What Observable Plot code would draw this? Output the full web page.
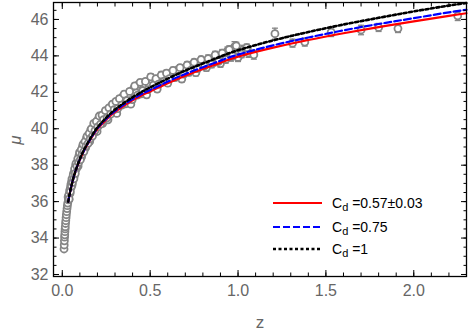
<!DOCTYPE html>
<html>
<head>
<meta charset="utf-8">
<script src="https://cdn.jsdelivr.net/npm/d3@7"></script>
<script src="https://cdn.jsdelivr.net/npm/@observablehq/plot@0.6"></script>
<style>
  html, body { margin: 0; padding: 0; background: #fff; }
  #wrap { position: relative; width: 469px; height: 331px; font-family: "Liberation Sans", Arial, sans-serif; }
  #legend { position: absolute; left: 0; top: 0; pointer-events: none; }
</style>
</head>
<body>
<div id="wrap"></div>
<script>
// ---- model curves ----
const zGrid   = [0.034,0.04,0.05,0.06,0.075,0.10,0.125,0.15,0.175,0.20,0.25,0.30,0.35,0.40,0.45,0.50,0.60,0.70,0.80,0.90,1.00,1.20,1.40,1.60,1.80,2.00,2.20,2.30];
const muRed   = [36.0,36.32,36.78,37.17,37.66,38.30,38.82,39.25,39.64,39.98,40.50,40.92,41.26,41.56,41.82,42.05,42.50,42.91,43.28,43.63,43.96,44.45,44.87,45.24,45.58,45.89,46.20,46.34];
const muBlue  = [36.0,36.32,36.78,37.18,37.67,38.32,38.84,39.28,39.67,40.02,40.55,40.98,41.33,41.63,41.90,42.13,42.59,43.01,43.38,43.74,44.07,44.58,45.01,45.40,45.75,46.07,46.39,46.53];
const muBlack = [36.0,36.33,36.79,37.19,37.68,38.34,38.87,39.31,39.72,40.07,40.61,41.05,41.41,41.73,42.01,42.27,42.75,43.19,43.58,43.96,44.31,44.85,45.31,45.72,46.09,46.44,46.76,46.90];

// ---- observational data (gray circles with error bars) ----
const obsZ = [0.010,0.011,0.012,0.013,0.014,0.015,0.016,0.017,0.0185,0.020,0.0215,0.023,0.025,0.027,0.029,0.031,
  0.035,0.038,0.041,0.044,0.047,0.050,0.053,0.056,0.060,0.064,0.068,0.072,0.076,0.080,0.085,0.090,0.095,0.100,
  0.105,0.110,0.115,0.120,0.126,0.132,0.138,0.144,0.150,0.156,0.162,0.168,0.175,0.182,0.190,0.198,
  0.206,0.214,0.222,0.230,0.240,0.250,0.260,0.270,0.280,0.290,0.300,0.310,0.320,0.330,0.345,0.360,0.375,0.390,
  0.405,0.420,0.435,0.450,0.465,0.480,0.495,0.510,0.525,0.540,0.555,0.570,0.585,0.600,0.620,0.640,0.660,0.680,
  0.700,0.720,0.740,0.760,0.780,0.800,0.820,0.840,0.860,0.880,0.900,0.920,0.940,0.960,0.980,1.000,1.030,1.060,1.090,
  1.210,1.310,1.380,1.530,1.700,1.800,1.910,2.250];
const obsMu = [33.40,33.62,33.85,34.05,34.18,34.35,34.50,34.62,34.80,34.95,35.12,35.28,35.45,35.62,35.78,35.92,
  36.10,36.11,36.47,36.45,36.79,36.78,37.10,36.92,37.27,37.55,37.39,37.71,37.99,37.80,38.13,37.95,38.53,38.40,
  38.66,38.46,39.02,38.87,39.14,38.95,39.50,39.35,39.60,39.30,39.94,39.78,39.74,40.19,40.15,39.85,
  40.55,40.34,40.57,40.30,40.85,40.70,40.49,40.98,41.26,40.94,41.17,40.84,41.46,41.28,41.78,41.37,41.76,41.35,
  42.19,41.97,42.44,41.92,42.34,41.86,42.38,42.70,42.31,42.18,42.70,42.57,42.98,42.50,42.93,42.81,43.25,42.73,
  43.21,43.09,43.51,43.08,43.46,43.68,43.35,43.72,43.64,43.96,43.58,43.90,44.27,43.93,44.50,43.91,44.34,44.16,44.06,
  45.22,44.70,44.76,45.30,45.42,45.56,45.50,46.20];
const obsErr = [0.12,0.11,0.11,0.10,0.10,0.10,0.10,0.10,0.10,0.10,0.10,0.10,0.10,0.10,0.10,0.10,
  0.10,0.10,0.10,0.10,0.10,0.10,0.10,0.10,0.10,0.10,0.10,0.10,0.10,0.10,0.10,0.10,0.10,0.11,
  0.12,0.12,0.12,0.12,0.12,0.12,0.12,0.12,0.12,0.12,0.12,0.12,0.12,0.12,0.12,0.12,
  0.13,0.13,0.13,0.13,0.13,0.13,0.13,0.13,0.13,0.13,0.14,0.14,0.14,0.14,0.14,0.14,0.14,0.14,
  0.15,0.15,0.15,0.15,0.15,0.15,0.15,0.16,0.16,0.16,0.16,0.16,0.16,0.16,0.17,0.17,0.17,0.17,
  0.18,0.18,0.18,0.18,0.18,0.19,0.19,0.19,0.19,0.20,0.20,0.20,0.22,0.22,0.28,0.22,0.24,0.24,0.24,
  0.30,0.22,0.22,0.24,0.26,0.22,0.22,0.26];
// second group of supernova points filling the dense band
const obsZ2 = [0.033,0.036,0.039,0.042,0.046,0.049,0.052,0.055,0.058,0.062,0.066,0.070,0.074,0.078,0.083,0.088,0.093,0.098,
  0.103,0.108,0.113,0.118,0.123,0.129,0.135,0.141,0.147,0.153,0.159,0.165,0.172,0.179,0.186,0.194,
  0.202,0.210,0.218,0.226,0.235,0.245,0.255,0.265,0.275,0.285,0.295,
  0.305,0.315,0.325,0.338,0.352,0.368,0.383,0.398,0.412,0.428,0.443,0.458,0.473,0.488,
  0.503,0.518,0.533,0.548,0.563,0.578,0.593,0.610,0.630,0.650,0.670,0.690,0.710,0.730,0.750,0.770,0.790,
  0.810,0.830,0.850,0.870,0.890,0.910,0.930,0.950,0.970,0.990,1.020,1.050];
const obsMu2 = [36.25,36.35,36.15,36.62,36.55,36.95,36.85,37.25,37.05,37.45,37.25,37.80,37.55,38.10,37.95,38.35,38.15,38.70,
  38.30,38.85,38.60,39.15,38.75,39.30,39.05,39.60,39.20,39.75,39.45,40.00,39.60,40.30,39.90,40.40,
  40.10,40.70,40.25,40.75,40.50,41.00,40.60,41.15,40.80,41.35,41.05,
  41.50,41.10,41.65,41.30,41.90,41.55,42.05,41.60,42.35,41.85,42.55,42.10,42.60,42.15,
  42.85,42.40,42.75,42.45,42.95,42.60,43.05,42.75,43.20,42.85,43.35,43.00,43.50,43.20,43.65,43.30,43.80,
  43.45,43.85,43.55,44.05,43.70,44.15,43.80,44.35,44.00,44.55,44.10,44.45];
const obsErr2 = [0.10,0.10,0.10,0.10,0.10,0.10,0.10,0.10,0.10,0.10,0.10,0.10,0.10,0.10,0.10,0.10,0.10,0.10,
  0.12,0.12,0.12,0.12,0.12,0.12,0.12,0.12,0.12,0.12,0.12,0.12,0.12,0.12,0.12,0.12,
  0.13,0.13,0.13,0.13,0.13,0.13,0.13,0.13,0.13,0.13,0.13,
  0.15,0.15,0.15,0.15,0.15,0.15,0.15,0.15,0.15,0.15,0.15,0.15,0.15,0.15,
  0.17,0.17,0.17,0.17,0.17,0.17,0.17,0.17,0.17,0.17,0.17,0.17,0.17,0.17,0.17,0.17,0.17,
  0.20,0.20,0.20,0.20,0.20,0.20,0.20,0.20,0.20,0.20,0.20,0.20];

// ---- ticks & labels ----
const xMajor = [0, 0.5, 1.0, 1.5, 2.0];
const xMinor = [0,0.1,0.2,0.3,0.4,0.5,0.6,0.7,0.8,0.9,1.0,1.1,1.2,1.3,1.4,1.5,1.6,1.7,1.8,1.9,2.0,2.1,2.2];
const yMajor = [32, 34, 36, 38, 40, 42, 44, 46];
const yMinor = [32,32.5,33,33.5,34,34.5,35,35.5,36,36.5,37,37.5,38,38.5,39,39.5,40,40.5,41,41.5,42,42.5,43,43.5,44,44.5,45,45.5,46,46.5];
const legendLabels = ["0.57±0.03", "0.75", "1"];
const xLabel = "z";
const yLabel = "μ";

const obs = obsZ.map((z, i) => ({z, mu: obsMu[i], err: obsErr[i]}))
  .concat(obsZ2.map((z, i) => ({z, mu: obsMu2[i], err: obsErr2[i]})));
const curves = zGrid.map((z, i) => ({z, red: muRed[i], blue: muBlue[i], black: muBlack[i]}));

const capSymbol = { draw(ctx, size) { const w = 3; ctx.moveTo(-w, 0); ctx.lineTo(w, 0); } };
const gray = "#858585";
const tickColor = "#666";

const plot = Plot.plot({
  width: 469, height: 331,
  marginLeft: 53, marginRight: 3, marginTop: 2, marginBottom: 55,
  style: { fontFamily: '"Liberation Sans", Arial, sans-serif', background: "white", overflow: "visible" },
  x: { domain: [-0.05, 2.3] },
  y: { domain: [31.89, 46.93] },
  marks: [
    Plot.ruleX(obs, { x: "z", y1: d => d.mu - d.err, y2: d => d.mu + d.err, stroke: gray, strokeWidth: 1.3 }),
    Plot.dot(obs, { x: "z", y: d => d.mu - d.err, symbol: capSymbol, stroke: gray, strokeWidth: 1.3, r: 3 }),
    Plot.dot(obs, { x: "z", y: d => d.mu + d.err, symbol: capSymbol, stroke: gray, strokeWidth: 1.3, r: 3 }),
    Plot.dot(obs, { x: "z", y: "mu", r: 3.5, stroke: gray, strokeWidth: 1.8, fill: "white" }),
    Plot.line(curves, { x: "z", y: "red", stroke: "#ff0000", strokeWidth: 2.2, curve: "natural" }),
    Plot.line(curves, { x: "z", y: "blue", stroke: "#0000ff", strokeWidth: 2.2, strokeDasharray: "7,3", curve: "natural" }),
    Plot.line(curves, { x: "z", y: "black", stroke: "#000", strokeWidth: 2.6, strokeDasharray: "3,2.5", curve: "natural" }),
    // tick labels
    Plot.axisX({ anchor: "bottom", ticks: xMajor, tickSize: 0, tickPadding: 8, tickFormat: d3.format(".1f"), fill: tickColor, fontSize: 16, label: null }),
    Plot.axisY({ anchor: "left", ticks: yMajor, tickSize: 0, tickPadding: 5, tickFormat: d => String(d), fill: tickColor, fontSize: 16, label: null }),
    // inward ticks on all four sides
    Plot.axisX({ anchor: "bottom", ticks: xMajor, tickSize: -6, tickFormat: () => "", label: null, stroke: "#000" }),
    Plot.axisX({ anchor: "bottom", ticks: xMinor, tickSize: -3.5, tickFormat: () => "", label: null, stroke: "#000" }),
    Plot.axisX({ anchor: "top", ticks: xMajor, tickSize: -6, tickFormat: () => "", label: null, stroke: "#000" }),
    Plot.axisX({ anchor: "top", ticks: xMinor, tickSize: -3.5, tickFormat: () => "", label: null, stroke: "#000" }),
    Plot.axisY({ anchor: "left", ticks: yMajor, tickSize: -6, tickFormat: () => "", label: null, stroke: "#000" }),
    Plot.axisY({ anchor: "left", ticks: yMinor, tickSize: -3.5, tickFormat: () => "", label: null, stroke: "#000" }),
    Plot.axisY({ anchor: "right", ticks: yMajor, tickSize: -6, tickFormat: () => "", label: null, stroke: "#000" }),
    Plot.axisY({ anchor: "right", ticks: yMinor, tickSize: -3.5, tickFormat: () => "", label: null, stroke: "#000" }),
    Plot.frame({ stroke: "#000", strokeWidth: 1.3 })
  ]
});

const wrap = document.getElementById("wrap");
wrap.appendChild(plot);

// axis titles and legend as an overlay
const ns = "http://www.w3.org/2000/svg";
const ov = document.createElementNS(ns, "svg");
ov.setAttribute("id", "legend");
ov.setAttribute("width", 469);
ov.setAttribute("height", 331);
ov.setAttribute("font-family", '"Liberation Sans", Arial, sans-serif');
const styles = [
  { stroke: "#ff0000", dash: null, w: 2.2 },
  { stroke: "#0000ff", dash: "7,3", w: 2.2 },
  { stroke: "#000", dash: "3,2.5", w: 2.6 }
];
const rowsY = [203, 227, 249];
legendLabels.forEach((lab, i) => {
  const ln = document.createElementNS(ns, "line");
  ln.setAttribute("x1", 273); ln.setAttribute("x2", 322);
  ln.setAttribute("y1", rowsY[i]); ln.setAttribute("y2", rowsY[i]);
  ln.setAttribute("stroke", styles[i].stroke);
  ln.setAttribute("stroke-width", styles[i].w);
  if (styles[i].dash) ln.setAttribute("stroke-dasharray", styles[i].dash);
  ov.appendChild(ln);
  const t = document.createElementNS(ns, "text");
  t.setAttribute("x", 332); t.setAttribute("y", rowsY[i] + 5);
  t.setAttribute("font-size", 14); t.setAttribute("fill", "#000");
  const c = document.createElementNS(ns, "tspan"); c.textContent = "C"; t.appendChild(c);
  const s = document.createElementNS(ns, "tspan"); s.textContent = "d"; s.setAttribute("font-size", 11); s.setAttribute("dy", 3); t.appendChild(s);
  const r = document.createElementNS(ns, "tspan"); r.textContent = " =" + lab; r.setAttribute("dy", -3); t.appendChild(r);
  ov.appendChild(t);
});
const xt = document.createElementNS(ns, "text");
xt.setAttribute("x", 260); xt.setAttribute("y", 328); xt.setAttribute("text-anchor", "middle");
xt.setAttribute("font-size", 17); xt.setAttribute("fill", tickColor); xt.textContent = xLabel;
ov.appendChild(xt);
const yt = document.createElementNS(ns, "text");
yt.setAttribute("transform", "translate(21,140) rotate(-90)"); yt.setAttribute("text-anchor", "middle");
yt.setAttribute("font-size", 17); yt.setAttribute("font-style", "italic"); yt.setAttribute("fill", tickColor); yt.textContent = yLabel;
ov.appendChild(yt);
wrap.appendChild(ov);
</script>
</body>
</html>
